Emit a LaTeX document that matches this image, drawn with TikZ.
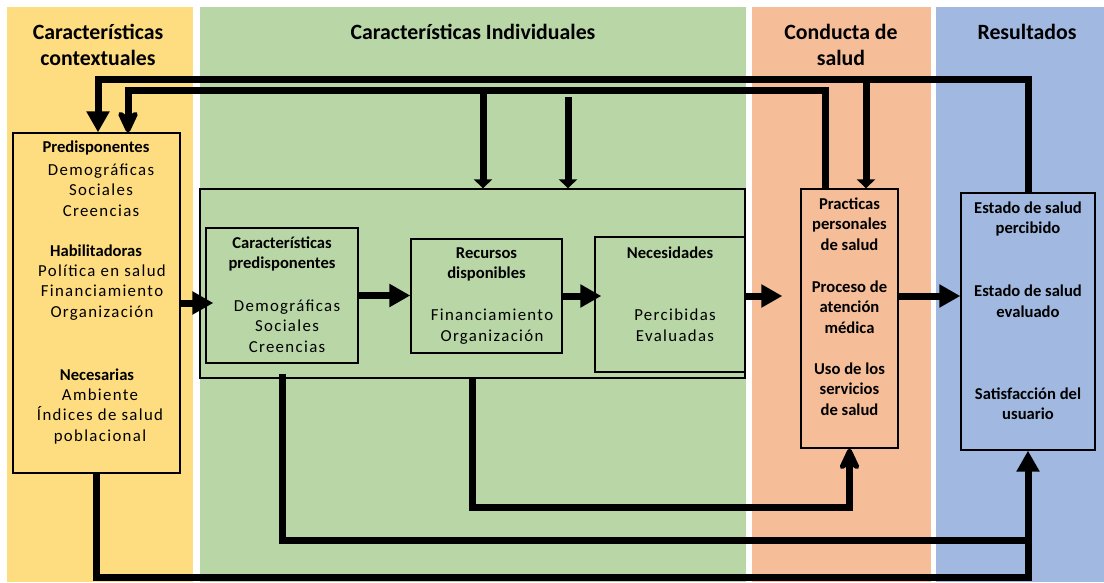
\documentclass[tikz,border=0pt]{standalone}
\usepackage{fontspec}
\setmainfont{Carlito}
\newfontfamily\spaced[LetterSpace=8]{Carlito}
\usetikzlibrary{arrows.meta}
\definecolor{colY}{HTML}{FEDC80}
\definecolor{colG}{HTML}{B8D6A6}
\definecolor{colO}{HTML}{F5BD98}
\definecolor{colB}{HTML}{A1B9E0}

\begin{document}
\begin{tikzpicture}[x=1pt,y=-1pt,
  box/.style={draw=black,line width=1.3pt,inner sep=0pt},
  title/.style={font=\fontsize{21.8}{26}\selectfont\bfseries,align=center,inner sep=0pt},
  head/.style={font=\fontsize{16.6}{20.5}\selectfont\bfseries,align=center,inner sep=0pt},
  txt/.style={font=\fontsize{16.8}{20.5}\selectfont\spaced,align=center,inner sep=0pt},
  conn/.style={line width=7pt},
  big/.style={-{Triangle[length=21pt,width=22pt]}},
  small/.style={-{Triangle[length=9pt,width=18pt]}},
  barb/.style={-{Stealth[length=28pt,width=26pt,inset=9pt,round]}},
]
\useasboundingbox (0,0) rectangle (1104,582);

% column bands
\fill[colY] (7,7) rectangle (193,582);
\fill[colG] (200,7) rectangle (746,582);
\fill[colO] (752,7) rectangle (931,582);
\fill[colB] (936,7) rectangle (1104,582);

% column titles
\node[title] (tY) at (98,45) {Características\\contextuales};
\node[title] (tG) at (473,32) {Características Individuales};
\node[title] (tO) at (841,45) {Conducta de\\salud};
\node[title] (tB) at (1027,32) {Resultados};

% boxes
\node[box,fill=colY,minimum width=167pt,minimum height=340pt] (ctx) at (96.5,303) {};
\node[box,fill=colG,minimum width=545pt,minimum height=189pt] (ind) at (472.5,283.5) {};
\node[box,fill=colG,minimum width=152pt,minimum height=135pt] (cp) at (282,295.5) {};
\node[box,fill=colG,minimum width=151pt,minimum height=114pt] (rec) at (486.5,296) {};
\node[box,fill=colG,minimum width=150pt,minimum height=135pt] (nec) at (670,304.5) {};
\node[box,fill=colO,minimum width=97pt,minimum height=259pt] (prac) at (849.5,318.5) {};
\node[box,fill=colB,minimum width=134pt,minimum height=257pt] (res) at (1028,321.5) {};

% contextual characteristics
\node[head] (ctx1h) at (96,148) {Predisponentes};
\node[txt] (ctx1) at (101,190) {Demográficas\\Sociales\\Creencias};
\node[head] (ctx2h) at (96,251) {Habilitadoras};
\node[txt] (ctx2) at (102,292.5) {Política en salud\\Financiamiento\\Organización};
\node[head] (ctx3h) at (97,375) {Necesarias};
\node[txt] (ctx3) at (100,416.5) {Ambiente\\Índices de salud\\poblacional};

% individual characteristics
\node[head] (cp1) at (282,254) {Características\\predisponentes};
\node[txt] (cp2) at (287,326) {Demográficas\\Sociales\\Creencias};
\node[head] (rec1) at (486.5,264.5) {Recursos\\disponibles};
\node[txt] (rec2) at (492,326.5) {Financiamiento\\Organización};
\node[head] (nec1) at (670,253) {Necesidades};
\node[txt] (nec2) at (675,325) {Percibidas\\Evaluadas};

% health behaviour
\node[head] (prac1) at (849.5,224) {Practicas\\personales\\de salud};
\node[head] (prac2) at (849.5,307) {Proceso de\\atención\\médica};
\node[head] (prac3) at (849.5,389) {Uso de los\\servicios\\de salud};

% outcomes
\node[head] (res1) at (1028,219) {Estado de salud\\percibido};
\node[head] (res2) at (1028,301) {Estado de salud\\evaluado};
\node[head] (res3) at (1028,403.5) {Satisfacción del\\usuario};

% routing levels and attachment points
\coordinate (r1) at (0,79);
\coordinate (r2) at (0,90);
\coordinate (r3) at (0,97);
\coordinate (b1) at (0,507);
\coordinate (b2) at (0,540);
\coordinate (b3) at (0,577);
\coordinate (ctxA) at ([xshift=1.5pt]ctx.north);
\coordinate (ctxB) at ([xshift=31.5pt]ctx.north);
\coordinate (pracA) at ([xshift=-24.5pt]prac.north);
\coordinate (pracB) at ([xshift=16.5pt]prac.north);
\coordinate (indA) at ([xshift=10.5pt]ind.north);
\coordinate (indB) at ([xshift=95.5pt]ind.north);
\coordinate (cpS) at ([yshift=-10pt]cp.south);

% feedback loops along the top
\draw[conn,big] (res.north) |- (ctxA |- r1) -- (ctxA);
\draw[conn,small] (pracB |- r1) -- (pracB);
\draw[conn,barb] (pracA) |- (ctxB |- r2) -- (ctxB);
\draw[conn,small] (indA |- r2) -- (indA);
\draw[conn,small] (indB |- r3) -- (indB);

% main flow
\draw[conn,big,shorten >=-8pt] (ctx.east) -- (ctx.east -| cp.west);
\draw[conn,big] (cp.east) -- (cp.east -| rec.west);
\draw[conn,big,shorten >=-7pt] (rec.east) -- (rec.east -| nec.west);
\draw[conn,big,shorten >=18pt] (ind.east |- rec.east) -- (prac.west |- rec.east);
\draw[conn,big] (prac.east |- rec.east) -- (res.west |- rec.east);

% lines along the bottom
\draw[conn,big] (ctx.south) |- (res.south |- b3) -- (res.south);
\draw[conn] (cpS) |- (res.south |- b2);
\draw[conn,barb] (ind.south) |- (prac.south |- b1) -- (prac.south);
\end{tikzpicture}
\end{document}
